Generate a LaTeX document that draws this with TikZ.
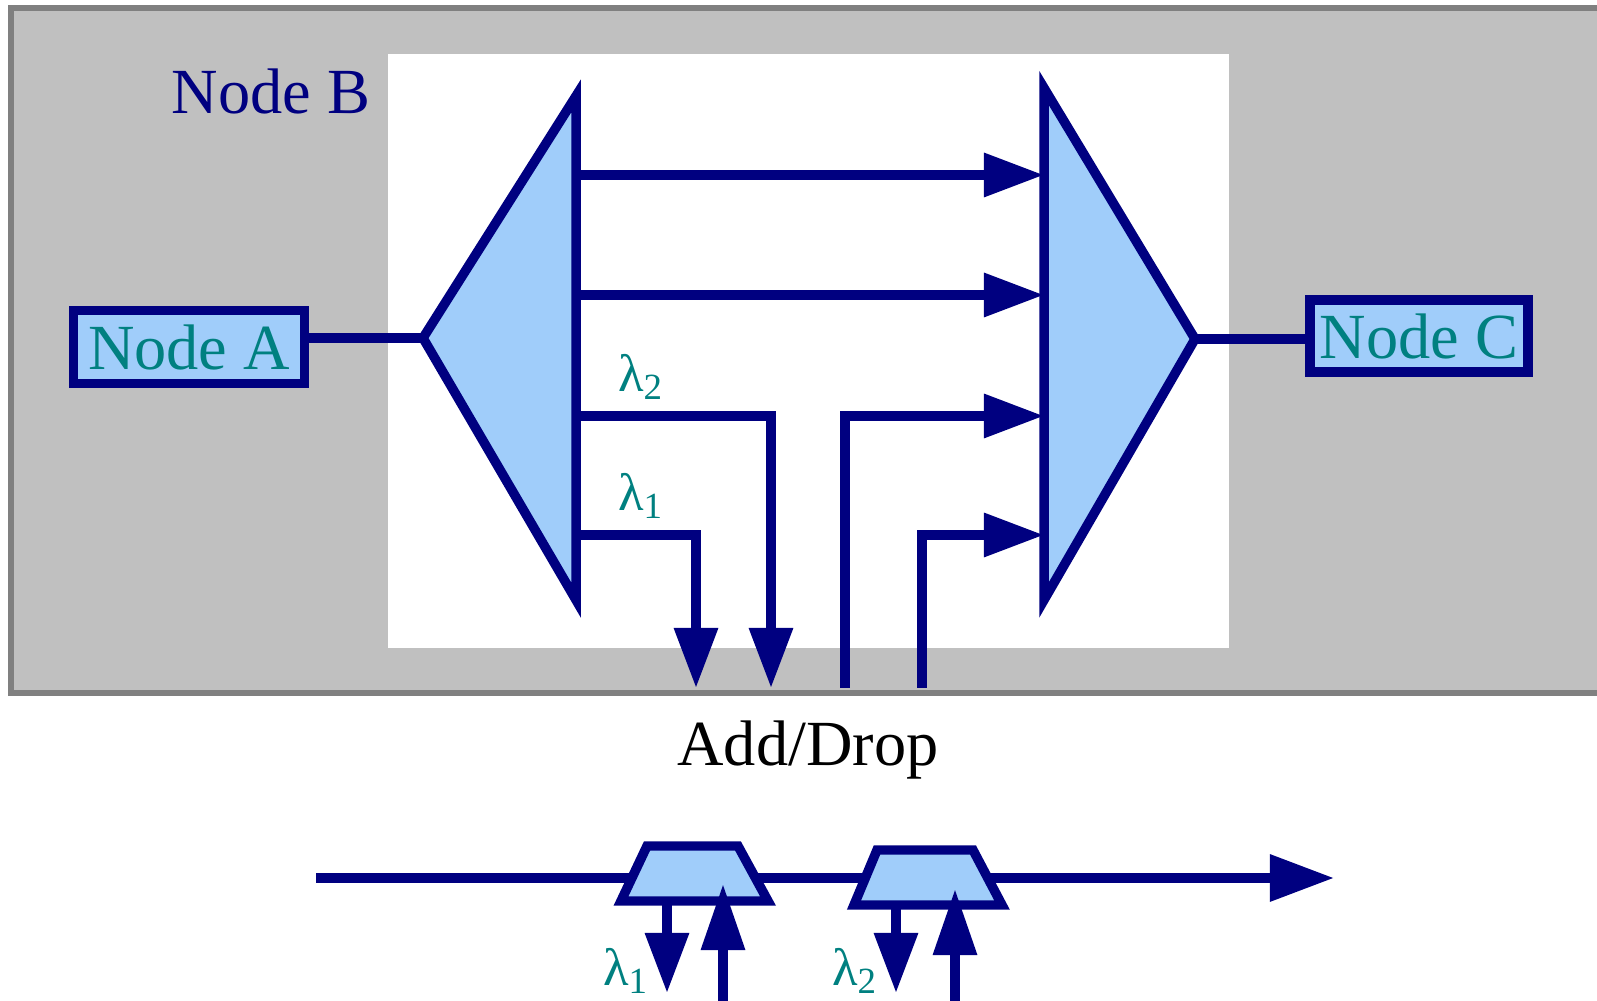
\documentclass[tikz,border=0pt]{standalone}
\usepackage{fontspec}
\setmainfont{Liberation Serif}
\usetikzlibrary{arrows.meta}
\definecolor{navy}{RGB}{0,0,128}
\definecolor{paleblue}{RGB}{160,205,250}
\definecolor{tealtext}{RGB}{0,128,128}
\definecolor{panelgray}{RGB}{192,192,192}
\definecolor{bordergray}{RGB}{128,128,128}
\newcommand{\bigtext}{\fontsize{18.3}{22}\selectfont}

\begin{document}
\begin{tikzpicture}[x=0.01cm, y=-0.01cm, >={Triangle[length=6mm,width=4.2mm]},
  fiber/.style={draw=navy, line width=2.7pt},
  box/.style={draw=navy, fill=paleblue, line width=2.8pt, text=tealtext, font=\bigtext, inner sep=0pt},
  lbl/.style={text=tealtext, font=\fontsize{15}{17}\selectfont}]
\useasboundingbox (0,0) rectangle (1597,1001);
% node B panel
\fill[panelgray] (11,8) rectangle (1597,693);
\draw[bordergray, line width=1.8pt] (1597,8) -- (11,8) -- (11,693) -- (1597,693);
\fill[white] (388,54) rectangle (1229,648);
\node[text=navy, font=\bigtext] (nodeb) at (271,92) {Node B};

% demultiplexer and multiplexer
\coordinate (dmxA) at (423,338);
\coordinate (dmxT) at (576,96);
\coordinate (dmxB) at (576,600);
\coordinate (mxT) at (1044,88);
\coordinate (mxB) at (1044,600);
\coordinate (mxA) at (1195,339);
\draw[fiber, fill=paleblue] (dmxA) -- (dmxT) -- (dmxB) -- cycle;
\draw[fiber, fill=paleblue] (mxA) -- (mxT) -- (mxB) -- cycle;

\node[box, minimum width=2.31cm, minimum height=0.73cm] (nodea) at (189,347) {Node A};
\node[box, minimum width=2.18cm, minimum height=0.72cm] (nodec) at (1419,336) {Node C};
\draw[fiber] (nodea.east |- dmxA) -- (dmxA);
\draw[fiber] (mxA) -- (nodec.west |- mxA);

% through channels
\foreach \y in {175,295}
  \draw[fiber,->] (dmxT |- 0,\y) -- (mxT |- 0,\y);

% add/drop ports
\coordinate (dropa) at (696,688);
\coordinate (dropb) at (771,688);
\coordinate (adda) at (845,688);
\coordinate (addb) at (922,688);
\draw[fiber,->] (dmxT |- 0,416) -| (dropb);
\draw[fiber,->] (dmxT |- 0,535) -| (dropa);
\draw[fiber,->] (adda) |- (mxT |- 0,416);
\draw[fiber,->] (addb) |- (mxT |- 0,535);
\node[lbl] (lam2) at (641,377) {λ\textsubscript{2}};
\node[lbl] (lam1) at (641,496) {λ\textsubscript{1}};

\node[font=\bigtext] (adddrop) at (808,750) {Add/Drop};

% cascaded filters
\coordinate (lin) at (316,878);
\coordinate (lout) at (1334,878);
\draw[fiber,->,>={Triangle[length=6.4mm,width=4.5mm]}] (lin) -- (lout);
\coordinate (t1bl) at (621,901);
\coordinate (t1tl) at (647,846);
\coordinate (t1tr) at (738,846);
\coordinate (t1br) at (768,901);
\coordinate (t2bl) at (854,905);
\coordinate (t2tl) at (877,850);
\coordinate (t2tr) at (973,850);
\coordinate (t2br) at (1002,905);
\draw[fiber, fill=paleblue] (t1bl) -- (t1tl) -- (t1tr) -- (t1br) -- cycle;
\draw[fiber, fill=paleblue] (t2bl) -- (t2tl) -- (t2tr) -- (t2br) -- cycle;

\coordinate (o1) at (667,993);
\coordinate (i1) at (723,1003);
\coordinate (i1tip) at (723,884);
\coordinate (o2) at (896,993);
\coordinate (i2) at (955,1003);
\coordinate (i2tip) at (955,889);
\draw[fiber,->] (o1 |- t1bl) -- (o1);
\draw[fiber,->,>={Triangle[length=6.6mm,width=4.2mm]}] (i1) -- (i1tip);
\draw[fiber,->] (o2 |- t2bl) -- (o2);
\draw[fiber,->,>={Triangle[length=6.6mm,width=4.2mm]}] (i2) -- (i2tip);
\node[lbl] (lam1b) at (626,971) {λ\textsubscript{1}};
\node[lbl] (lam2b) at (855,971) {λ\textsubscript{2}};
\end{tikzpicture}
\end{document}
